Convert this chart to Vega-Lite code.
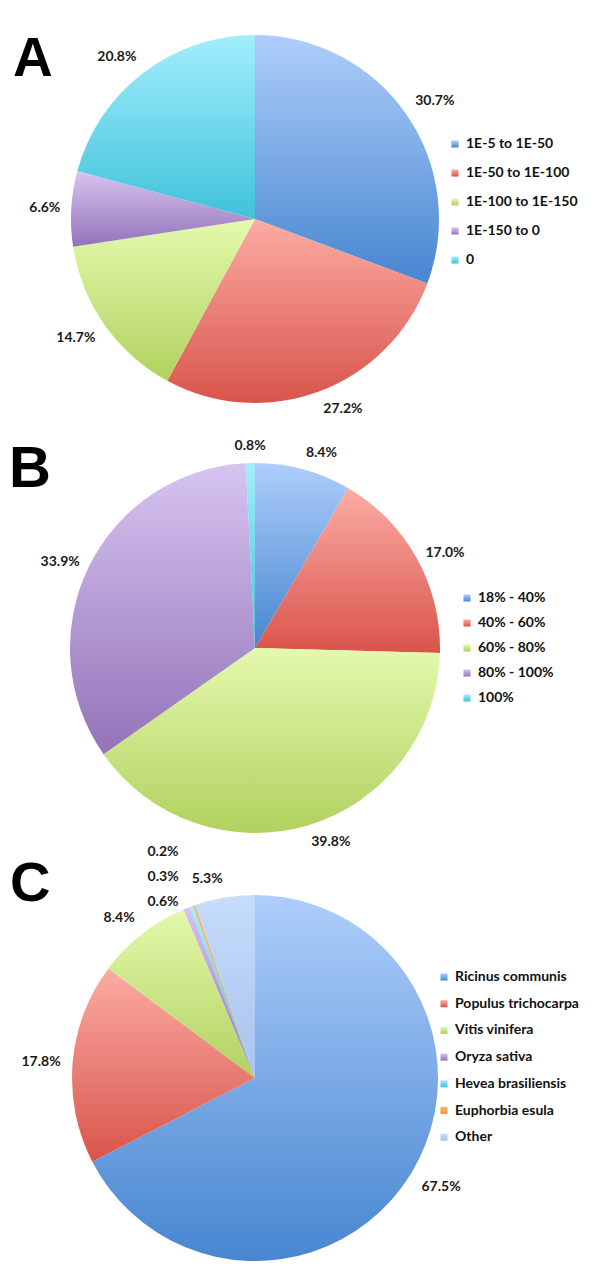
{
  "$schema": "https://vega.github.io/schema/vega-lite/v6.json",
  "padding": 0,
  "bounds": "flush",
  "spacing": 0,
  "background": "white",
  "config": {"view": {"stroke": null}},
  "resolve": {"scale": {"color": "independent", "theta": "independent"}, "legend": {"color": "independent"}},
  "vconcat": [
    {
      "width": 510, "height": 438,
      "title": {"text": "A", "anchor": "start", "frame": "group", "offset": 0, "font": "Liberation Sans", "fontSize": 55, "fontWeight": "bold", "color": "#000000", "dx": 13, "dy": 88},
      "data": {"values": [
        {"cat": "1E-5 to 1E-50", "share": 0.307, "k": 1},
        {"cat": "1E-50 to 1E-100", "share": 0.272, "k": 2},
        {"cat": "1E-100 to 1E-150", "share": 0.147, "k": 3},
        {"cat": "1E-150 to 0", "share": 0.066, "k": 4},
        {"cat": "0", "share": 0.208, "k": 5}
      ]},
      "encoding": {
        "theta": {"field": "share", "type": "quantitative", "stack": true},
        "order": {"field": "k", "type": "quantitative"}
      },
      "layer": [
        {
          "mark": {"type": "arc", "outerRadius": 184},
          "encoding": {
            "color": {"field": "cat", "type": "nominal",
              "scale": {"domain": ["1E-5 to 1E-50", "1E-50 to 1E-100", "1E-100 to 1E-150", "1E-150 to 0", "0"],
                "range": [
                  {"expr": "{gradient:'linear',x1:0,y1:0,x2:0,y2:1,stops:[{offset:0,color:'#aecefb'},{offset:1,color:'#4786d0'}]}"},
                  {"expr": "{gradient:'linear',x1:0,y1:0,x2:0,y2:1,stops:[{offset:0,color:'#fbaca4'},{offset:1,color:'#d9544b'}]}"},
                  {"expr": "{gradient:'linear',x1:0,y1:0,x2:0,y2:1,stops:[{offset:0,color:'#e4f9ad'},{offset:1,color:'#b1d15f'}]}"},
                  {"expr": "{gradient:'linear',x1:0,y1:0,x2:0,y2:1,stops:[{offset:0,color:'#d6c4f0'},{offset:1,color:'#9473b9'}]}"},
                  {"expr": "{gradient:'linear',x1:0,y1:0,x2:0,y2:1,stops:[{offset:0,color:'#a3eefc'},{offset:1,color:'#3fc1db'}]}"}
                ]},
              "legend": {"title": null, "orient": "none", "legendX": 448, "legendY": 137, "symbolType": "square", "symbolSize": 50, "symbolStrokeWidth": 0, "labelFont": "Lato", "labelFontWeight": "bold", "labelFontSize": 14, "labelColor": "#111111", "rowPadding": 15, "labelOffset": 4}
            }
          }
        },
        {
          "mark": {"type": "text", "radius": 195, "font": "Lato", "fontWeight": "bold", "fontSize": 14, "color": "#1a1a1a",
            "align": {"expr": "sin(PI*(datum.share_start+datum.share_end)) > 0.15 ? 'left' : (sin(PI*(datum.share_start+datum.share_end)) < -0.15 ? 'right' : 'center')"},
            "baseline": {"expr": "cos(PI*(datum.share_start+datum.share_end)) > 0.5 ? 'bottom' : (cos(PI*(datum.share_start+datum.share_end)) < -0.5 ? 'top' : 'middle')"}},
          "encoding": {"text": {"field": "share", "type": "quantitative", "format": ".1%"}}
        }
      ]
    },
    {
      "width": 510, "height": 420,
      "title": {"text": "B", "anchor": "start", "frame": "group", "offset": 0, "font": "Liberation Sans", "fontSize": 58, "fontWeight": "bold", "color": "#000000", "dx": 9, "dy": 61},
      "data": {"values": [
        {"cat": "18% - 40%", "share": 0.084, "k": 1},
        {"cat": "40% - 60%", "share": 0.170, "k": 2},
        {"cat": "60% - 80%", "share": 0.398, "k": 3},
        {"cat": "80% - 100%", "share": 0.339, "k": 4},
        {"cat": "100%", "share": 0.008, "k": 5}
      ]},
      "encoding": {
        "theta": {"field": "share", "type": "quantitative", "stack": true},
        "order": {"field": "k", "type": "quantitative"}
      },
      "layer": [
        {
          "mark": {"type": "arc", "outerRadius": 185},
          "encoding": {
            "color": {"field": "cat", "type": "nominal",
              "scale": {"domain": ["18% - 40%", "40% - 60%", "60% - 80%", "80% - 100%", "100%"],
                "range": [
                  {"expr": "{gradient:'linear',x1:0,y1:0,x2:0,y2:1,stops:[{offset:0,color:'#aecefb'},{offset:1,color:'#4786d0'}]}"},
                  {"expr": "{gradient:'linear',x1:0,y1:0,x2:0,y2:1,stops:[{offset:0,color:'#fbaca4'},{offset:1,color:'#d9544b'}]}"},
                  {"expr": "{gradient:'linear',x1:0,y1:0,x2:0,y2:1,stops:[{offset:0,color:'#e4f9ad'},{offset:1,color:'#b1d15f'}]}"},
                  {"expr": "{gradient:'linear',x1:0,y1:0,x2:0,y2:1,stops:[{offset:0,color:'#d6c4f0'},{offset:1,color:'#9473b9'}]}"},
                  {"expr": "{gradient:'linear',x1:0,y1:0,x2:0,y2:1,stops:[{offset:0,color:'#a3eefc'},{offset:1,color:'#3fc1db'}]}"}
                ]},
              "legend": {"title": null, "orient": "none", "legendX": 460, "legendY": 153, "symbolType": "square", "symbolSize": 50, "symbolStrokeWidth": 0, "labelFont": "Lato", "labelFontWeight": "bold", "labelFontSize": 14, "labelColor": "#111111", "rowPadding": 11, "labelOffset": 4}
            }
          }
        },
        {
          "mark": {"type": "text", "radius": 195, "font": "Lato", "fontWeight": "bold", "fontSize": 14, "color": "#1a1a1a",
            "align": {"expr": "sin(PI*(datum.share_start+datum.share_end)) > 0.15 ? 'left' : (sin(PI*(datum.share_start+datum.share_end)) < -0.15 ? 'right' : 'center')"},
            "baseline": {"expr": "cos(PI*(datum.share_start+datum.share_end)) > 0.5 ? 'bottom' : (cos(PI*(datum.share_start+datum.share_end)) < -0.5 ? 'top' : 'middle')"}},
          "encoding": {"text": {"field": "share", "type": "quantitative", "format": ".1%"}}
        }
      ]
    },
    {
      "width": 510, "height": 440,
      "title": {"text": "C", "anchor": "start", "frame": "group", "offset": 0, "font": "Liberation Sans", "fontSize": 56, "fontWeight": "bold", "color": "#000000", "dx": 10, "dy": 76},
      "data": {"values": [
        {"cat": "Ricinus communis", "share": 0.675, "k": 1},
        {"cat": "Populus trichocarpa", "share": 0.178, "k": 2},
        {"cat": "Vitis vinifera", "share": 0.084, "k": 3},
        {"cat": "Oryza sativa", "share": 0.006, "k": 4},
        {"cat": "Hevea brasiliensis", "share": 0.003, "k": 5},
        {"cat": "Euphorbia esula", "share": 0.002, "k": 6},
        {"cat": "Other", "share": 0.053, "k": 7}
      ]},
      "encoding": {
        "theta": {"field": "share", "type": "quantitative", "stack": true},
        "order": {"field": "k", "type": "quantitative"}
      },
      "layer": [
        {
          "mark": {"type": "arc", "outerRadius": 183},
          "encoding": {
            "color": {"field": "cat", "type": "nominal",
              "scale": {"domain": ["Ricinus communis", "Populus trichocarpa", "Vitis vinifera", "Oryza sativa", "Hevea brasiliensis", "Euphorbia esula", "Other"],
                "range": [
                  {"expr": "{gradient:'linear',x1:0,y1:0,x2:0,y2:1,stops:[{offset:0,color:'#aecefb'},{offset:1,color:'#4786d0'}]}"},
                  {"expr": "{gradient:'linear',x1:0,y1:0,x2:0,y2:1,stops:[{offset:0,color:'#fbaca4'},{offset:1,color:'#d9544b'}]}"},
                  {"expr": "{gradient:'linear',x1:0,y1:0,x2:0,y2:1,stops:[{offset:0,color:'#e4f9ad'},{offset:1,color:'#b1d15f'}]}"},
                  {"expr": "{gradient:'linear',x1:0,y1:0,x2:0,y2:1,stops:[{offset:0,color:'#d6c4f0'},{offset:1,color:'#9473b9'}]}"},
                  {"expr": "{gradient:'linear',x1:0,y1:0,x2:0,y2:1,stops:[{offset:0,color:'#a3eefc'},{offset:1,color:'#3fc1db'}]}"},
                  {"expr": "{gradient:'linear',x1:0,y1:0,x2:0,y2:1,stops:[{offset:0,color:'#fbb36b'},{offset:1,color:'#f49340'}]}"},
                  {"expr": "{gradient:'linear',x1:0,y1:0,x2:0,y2:1,stops:[{offset:0,color:'#c6dcfb'},{offset:1,color:'#a8c3ee'}]}"}
                ]},
              "legend": {"title": null, "orient": "none", "legendX": 437, "legendY": 112, "symbolType": "square", "symbolSize": 50, "symbolStrokeWidth": 0, "labelFont": "Lato", "labelFontWeight": "bold", "labelFontSize": 14, "labelColor": "#111111", "rowPadding": 12.7, "labelOffset": 4}
            }
          }
        },
        {
          "mark": {"type": "text", "radius": 195, "font": "Lato", "fontWeight": "bold", "fontSize": 14, "color": "#1a1a1a",
            "align": {"expr": "sin(PI*(datum.share_start+datum.share_end)) > 0.15 ? 'left' : (sin(PI*(datum.share_start+datum.share_end)) < -0.15 ? 'right' : 'center')"},
            "baseline": {"expr": "cos(PI*(datum.share_start+datum.share_end)) > 0.5 ? 'bottom' : (cos(PI*(datum.share_start+datum.share_end)) < -0.5 ? 'top' : 'middle')"}},
          "encoding": {
            "text": {"field": "share", "type": "quantitative", "format": ".1%"},
            "opacity": {"condition": {"test": "datum.k >= 4 && datum.k <= 6", "value": 0}, "value": 1}
          }
        },
        {
          "mark": {"type": "text", "radius": 194, "align": "right", "baseline": "middle", "dx": -4, "dy": 4, "font": "Lato", "fontWeight": "bold", "fontSize": 14, "color": "#1a1a1a"},
          "encoding": {
            "text": {"field": "share", "type": "quantitative", "format": ".1%"},
            "opacity": {"condition": {"test": "datum.k == 4", "value": 1}, "value": 0}
          }
        },
        {
          "mark": {"type": "text", "radius": 194, "align": "right", "baseline": "middle", "dx": -9, "dy": -19, "font": "Lato", "fontWeight": "bold", "fontSize": 14, "color": "#1a1a1a"},
          "encoding": {
            "text": {"field": "share", "type": "quantitative", "format": ".1%"},
            "opacity": {"condition": {"test": "datum.k == 5", "value": 1}, "value": 0}
          }
        },
        {
          "mark": {"type": "text", "radius": 194, "align": "right", "baseline": "middle", "dx": -12, "dy": -43, "font": "Lato", "fontWeight": "bold", "fontSize": 14, "color": "#1a1a1a"},
          "encoding": {
            "text": {"field": "share", "type": "quantitative", "format": ".1%"},
            "opacity": {"condition": {"test": "datum.k == 6", "value": 1}, "value": 0}
          }
        }
      ]
    }
  ]
}
